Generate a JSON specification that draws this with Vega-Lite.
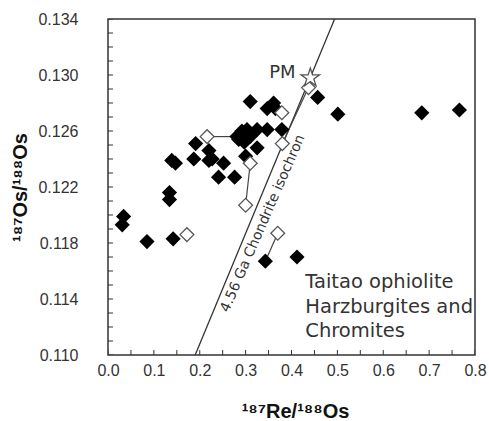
{
  "$schema": "https://vega.github.io/schema/vega-lite/v6.json",
  "width": 367,
  "height": 336,
  "autosize": "none",
  "padding": {"left": 108, "top": 19, "right": 14, "bottom": 66},
  "background": "white",
  "config": {
    "view": {"stroke": "#333", "strokeWidth": 1.5},
    "axis": {
      "grid": false,
      "domain": false,
      "tickSize": -5,
      "tickOpacity": 0,
      "labelFlush": false,
      "labelOverlap": false,
      "labelFont": "Liberation Sans",
      "labelFontSize": 16,
      "labelColor": "#333",
      "titleFont": "Liberation Sans",
      "titleFontSize": 20,
      "titleFontWeight": "bold",
      "titleColor": "#111"
    }
  },
  "datasets": {
    "points": [
      {"x": 0.034, "y": 0.1199, "kind": "filled"},
      {"x": 0.031, "y": 0.1193, "kind": "filled"},
      {"x": 0.085, "y": 0.1181, "kind": "filled"},
      {"x": 0.142, "y": 0.1183, "kind": "filled"},
      {"x": 0.139, "y": 0.1239, "kind": "filled"},
      {"x": 0.147, "y": 0.1237, "kind": "filled"},
      {"x": 0.134, "y": 0.1216, "kind": "filled"},
      {"x": 0.134, "y": 0.1211, "kind": "filled"},
      {"x": 0.191, "y": 0.1251, "kind": "filled"},
      {"x": 0.187, "y": 0.1240, "kind": "filled"},
      {"x": 0.220, "y": 0.1246, "kind": "filled"},
      {"x": 0.227, "y": 0.1240, "kind": "filled"},
      {"x": 0.220, "y": 0.1239, "kind": "filled"},
      {"x": 0.241, "y": 0.1227, "kind": "filled"},
      {"x": 0.252, "y": 0.1237, "kind": "filled"},
      {"x": 0.276, "y": 0.1227, "kind": "filled"},
      {"x": 0.310, "y": 0.1281, "kind": "filled"},
      {"x": 0.347, "y": 0.1276, "kind": "filled"},
      {"x": 0.361, "y": 0.1280, "kind": "filled"},
      {"x": 0.365, "y": 0.1276, "kind": "filled"},
      {"x": 0.281, "y": 0.1256, "kind": "filled"},
      {"x": 0.292, "y": 0.1260, "kind": "filled"},
      {"x": 0.303, "y": 0.1261, "kind": "filled"},
      {"x": 0.285, "y": 0.1254, "kind": "filled"},
      {"x": 0.297, "y": 0.1252, "kind": "filled"},
      {"x": 0.310, "y": 0.1256, "kind": "filled"},
      {"x": 0.325, "y": 0.1261, "kind": "filled"},
      {"x": 0.347, "y": 0.1261, "kind": "filled"},
      {"x": 0.379, "y": 0.1261, "kind": "filled"},
      {"x": 0.325, "y": 0.1248, "kind": "filled"},
      {"x": 0.300, "y": 0.1242, "kind": "filled"},
      {"x": 0.457, "y": 0.1284, "kind": "filled"},
      {"x": 0.501, "y": 0.1272, "kind": "filled"},
      {"x": 0.684, "y": 0.1273, "kind": "filled"},
      {"x": 0.766, "y": 0.1275, "kind": "filled"},
      {"x": 0.343, "y": 0.1167, "kind": "filled"},
      {"x": 0.412, "y": 0.1170, "kind": "filled"},
      {"x": 0.172, "y": 0.1186, "kind": "open"},
      {"x": 0.216, "y": 0.1256, "kind": "open"},
      {"x": 0.300, "y": 0.1207, "kind": "open"},
      {"x": 0.310, "y": 0.1237, "kind": "open"},
      {"x": 0.379, "y": 0.1273, "kind": "open"},
      {"x": 0.380, "y": 0.1251, "kind": "open"},
      {"x": 0.370, "y": 0.1187, "kind": "open"},
      {"x": 0.437, "y": 0.1291, "kind": "open"}
    ],
    "ties": [
      {"x": 0.216, "y": 0.1256, "pair": "a"},
      {"x": 0.281, "y": 0.1256, "pair": "a"},
      {"x": 0.300, "y": 0.1207, "pair": "b"},
      {"x": 0.310, "y": 0.1237, "pair": "b"},
      {"x": 0.343, "y": 0.1167, "pair": "c"},
      {"x": 0.370, "y": 0.1187, "pair": "c"},
      {"x": 0.380, "y": 0.1251, "pair": "d"},
      {"x": 0.437, "y": 0.1291, "pair": "d"}
    ],
    "iso": [
      {"x": 0.190, "y": 0.110},
      {"x": 0.494, "y": 0.134}
    ],
    "pm": [{"x": 0.441, "y": 0.1298}],
    "yticks": [
      {"v": 0.110}, {"v": 0.111}, {"v": 0.112}, {"v": 0.113}, {"v": 0.114}, {"v": 0.115}, {"v": 0.116}, {"v": 0.117}, {"v": 0.118}, {"v": 0.119}, {"v": 0.120}, {"v": 0.121}, {"v": 0.122}, {"v": 0.123}, {"v": 0.124}, {"v": 0.125}, {"v": 0.126}, {"v": 0.127}, {"v": 0.128}, {"v": 0.129}, {"v": 0.130}, {"v": 0.131}, {"v": 0.132}, {"v": 0.133}, {"v": 0.134}
    ],
    "xticks": [
      {"v": 0.0}, {"v": 0.05}, {"v": 0.1}, {"v": 0.15}, {"v": 0.2}, {"v": 0.25}, {"v": 0.3}, {"v": 0.35}, {"v": 0.4}, {"v": 0.45}, {"v": 0.5}, {"v": 0.55}, {"v": 0.6}, {"v": 0.65}, {"v": 0.7}, {"v": 0.75}, {"v": 0.8}
    ]
  },
  "layer": [
    {
      "data": {"name": "iso"},
      "mark": {"type": "line", "color": "#333", "strokeWidth": 1.3, "clip": true},
      "encoding": {
        "x": {"field": "x", "type": "quantitative",
          "scale": {"domain": [0, 0.8], "nice": false, "zero": false},
          "axis": {
            "title": "¹⁸⁷Re/¹⁸⁸Os",
            "values": [0, 0.1, 0.2, 0.3, 0.4, 0.5, 0.6, 0.7, 0.8],
            "format": ".1f",
            "labelPadding": 12,
            "labelBaseline": "top",
            "titleX": 187,
            "titleY": 62,
            "titleBaseline": "alphabetic",
            "titleAlign": "center"
          }},
        "y": {"field": "y", "type": "quantitative",
          "scale": {"domain": [0.110, 0.134], "nice": false, "zero": false},
          "axis": {
            "title": "¹⁸⁷Os/¹⁸⁸Os",
            "values": [0.110, 0.114, 0.118, 0.122, 0.126, 0.130, 0.134],
            "format": ".3f",
            "labelPadding": 35,
            "titleX": -88,
            "titleY": 168,
            "titleAngle": -90,
            "titleBaseline": "middle",
            "titleAlign": "center"
          }}
      }
    },
    {
      "data": {"name": "yticks"},
      "mark": {"type": "tick", "orient": "horizontal", "size": 10, "thickness": 1, "color": "#333", "opacity": 1, "clip": true},
      "encoding": {
        "x": {"datum": 0, "type": "quantitative"},
        "y": {"field": "v", "type": "quantitative"}
      }
    },
    {
      "data": {"name": "xticks"},
      "mark": {"type": "tick", "orient": "vertical", "size": 10, "thickness": 1, "color": "#333", "opacity": 1, "clip": true},
      "encoding": {
        "x": {"field": "v", "type": "quantitative"},
        "y": {"datum": 0.110, "type": "quantitative"}
      }
    },
    {
      "data": {"name": "ties"},
      "mark": {"type": "line", "color": "#444", "strokeWidth": 1.2},
      "encoding": {
        "x": {"field": "x", "type": "quantitative"},
        "y": {"field": "y", "type": "quantitative"},
        "detail": {"field": "pair"}
      }
    },
    {
      "data": {"name": "points"},
      "transform": [{"filter": "datum.kind == 'filled'"}],
      "mark": {"type": "point", "shape": "diamond", "filled": true, "color": "#000", "size": 230, "opacity": 1},
      "encoding": {
        "x": {"field": "x", "type": "quantitative"},
        "y": {"field": "y", "type": "quantitative"}
      }
    },
    {
      "data": {"name": "points"},
      "transform": [{"filter": "datum.kind == 'open'"}],
      "mark": {"type": "point", "shape": "diamond", "filled": true, "fill": "white", "stroke": "#555", "strokeWidth": 1.3, "size": 190, "opacity": 1},
      "encoding": {
        "x": {"field": "x", "type": "quantitative"},
        "y": {"field": "y", "type": "quantitative"}
      }
    },
    {
      "data": {"name": "pm"},
      "mark": {"type": "point", "shape": "M0,-1L0.2245,-0.309L0.951,-0.309L0.363,0.118L0.588,0.809L0,0.382L-0.588,0.809L-0.363,0.118L-0.951,-0.309L-0.2245,-0.309Z", "filled": true, "fill": "white", "stroke": "#555", "strokeWidth": 1.3, "size": 380, "opacity": 1},
      "encoding": {
        "x": {"field": "x", "type": "quantitative"},
        "y": {"field": "y", "type": "quantitative"}
      }
    },
    {
      "data": {"values": [{"x": 0.409, "y": 0.1298, "label": "PM"}]},
      "mark": {"type": "text", "font": "DejaVu Sans", "fontSize": 18, "color": "#333", "align": "right", "baseline": "alphabetic"},
      "encoding": {
        "x": {"field": "x", "type": "quantitative"},
        "y": {"field": "y", "type": "quantitative"},
        "text": {"field": "label"}
      }
    },
    {
      "data": {"values": [{"x": 0.430, "y": 0.11476, "label": "Taitao ophiolite\nHarzburgites and\nChromites"}]},
      "mark": {"type": "text", "font": "DejaVu Sans", "fontSize": 19.5, "color": "#333", "align": "left", "baseline": "alphabetic", "lineBreak": "\n", "lineHeight": 24.5},
      "encoding": {
        "x": {"field": "x", "type": "quantitative"},
        "y": {"field": "y", "type": "quantitative"},
        "text": {"field": "label"}
      }
    },
    {
      "data": {"values": [{"x": 0.3377, "y": 0.1194, "label": "4.56 Ga Chondrite isochron"}]},
      "mark": {"type": "text", "font": "DejaVu Sans", "fontSize": 14, "color": "#333", "align": "center", "baseline": "middle", "angle": -66.5},
      "encoding": {
        "x": {"field": "x", "type": "quantitative"},
        "y": {"field": "y", "type": "quantitative"},
        "text": {"field": "label"}
      }
    }
  ]
}
